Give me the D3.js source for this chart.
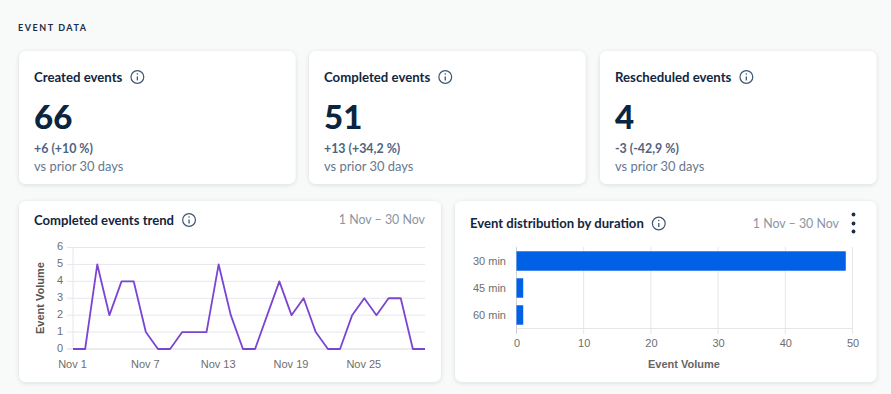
<!DOCTYPE html>
<html><head><meta charset="utf-8">
<script src="https://cdn.jsdelivr.net/npm/d3@7/dist/d3.min.js"></script>
<style>html,body{margin:0;padding:0;background:#f8f9f9;overflow:hidden}svg{display:block}</style>
</head><body><svg id="c" width="891" height="394"></svg>
<script>
const heading = "EVENT DATA";
const kpiTitles = ["Created events","Completed events","Rescheduled events"];
const kpiValues = ["66","51","4"];
const kpiDeltas = ["+6 (+10 %)","+13 (+34,2 %)","-3 (-42,9 %)"];
const kpiNote = "vs prior 30 days";
const dateRange = "1 Nov \u2013 30 Nov";
const trendDays = d3.range(1,31).map(d=>"Nov "+d);
const trendValues = [0,0,5,2,4,4,1,0,0,1,1,1,5,2,0,0,2,4,2,3,1,0,0,2,3,2,3,3,0,0];
const trendTicks = ["Nov 1","Nov 7","Nov 13","Nov 19","Nov 25"];
const durations = ["30 min","45 min","60 min"];
const durationValues = [49,1,1];

const TXT="Lato, sans-serif", CH="Liberation Sans, Arial, sans-serif";
const svg=d3.select("#c");
const defs=svg.append("defs");
const f=defs.append("filter").attr("id","sh").attr("x","-5%").attr("y","-5%").attr("width","110%").attr("height","115%");
f.append("feDropShadow").attr("dx",0).attr("dy",1).attr("stdDeviation",2).attr("flood-color","#0a2540").attr("flood-opacity",0.13);

function card(x,y,w,h){svg.append("rect").attr("x",x).attr("y",y).attr("width",w).attr("height",h).attr("rx",7).attr("fill","#fff").attr("filter","url(#sh)");}
function info(cx,cy){
  const g=svg.append("g").attr("transform",`translate(${cx},${cy})`).attr("fill","none").attr("stroke","#3f5670");
  g.append("circle").attr("r",6.4).attr("stroke-width",1.2);
  g.append("line").attr("y1",-0.6).attr("y2",3.4).attr("stroke-width",1.3);
  g.append("circle").attr("cy",-3).attr("r",0.8).attr("fill","#3f5670").attr("stroke","none");
}
function text(x,y,s,size,fill,weight,anchor,fam){
  return svg.append("text").attr("x",x).attr("y",y).text(s).attr("font-size",size).attr("fill",fill)
    .attr("font-weight",weight||400).attr("text-anchor",anchor||"start").attr("font-family",fam||TXT);
}
text(18,31,heading,9,"#1a2e47",700).attr("letter-spacing",1.55);

const kx=[19,309,600];
kpiTitles.forEach((t,i)=>{
  const x=kx[i];
  card(x,51,276.5,133);
  const tt=text(x+15,81.5,t,13.2,"#12263f",700);
  info(x+15+tt.node().getComputedTextLength()+15,77);
  text(x+15,129,kpiValues[i],33,"#0a2540",900);
  text(x+15,153,kpiDeltas[i],12.4,"#4f6480",700);
  text(x+15,171,kpiNote,12.9,"#66788f",400);
});

// trend card
card(19,201,422,181);
{
 const tt=text(34,224.5,"Completed events trend",13.1,"#12263f",700);
 info(34+tt.node().getComputedTextLength()+15,220);
 text(425,224,dateRange,12.4,"#8a95a3",400,"end");
 const x=d3.scalePoint().domain(trendDays).range([73,425]);
 const y=d3.scaleLinear().domain([0,6]).range([349,247.5]);
 const g=svg.append("g");
 g.append("g").selectAll("line").data(y.ticks(6)).join("line")
  .attr("x1",67).attr("x2",425).attr("y1",d=>y(d)).attr("y2",d=>y(d)).attr("stroke",d=>d===0?"#d5d8e0":"#e6e6ee").attr("stroke-width",1);
 g.append("line").attr("x1",73).attr("x2",73).attr("y1",247.5).attr("y2",349).attr("stroke","#e6e6ee");
 const ya=d3.axisLeft(y).tickValues(y.ticks(6)).tickFormat(d3.format("d")).tickSize(0).tickPadding(5);
 const yg=g.append("g").attr("transform","translate(68,0)").call(ya);
 yg.select(".domain").remove();
 yg.selectAll("text").attr("font-family",CH).attr("font-size",11).attr("fill","#6e6e6e").attr("dy","0.2em");
 const xa=d3.axisBottom(x).tickValues(trendTicks).tickSize(0).tickPadding(0);
 const xg=g.append("g").attr("transform","translate(-1,360)").call(xa);
 xg.select(".domain").remove();
 xg.selectAll("text").attr("font-family",CH).attr("font-size",11).attr("fill","#6e6e6e").attr("dy","0.71em");
 text(0,0,"Event Volume",11,"#555",700,"middle",CH).attr("transform","translate(43.5,298) rotate(-90)");
 g.append("path").datum(trendValues).attr("fill","none").attr("stroke","#7b45d3").attr("stroke-width",1.8).attr("stroke-linejoin","round")
  .attr("d",d3.line().x((d,i)=>x(trendDays[i])).y(d=>y(d)));
}
// duration card
card(455,201,421.5,181);
{
 const tt=text(470,228,"Event distribution by duration",13.1,"#12263f",700);
 info(470+tt.node().getComputedTextLength()+15,223.5);
 text(839,228,dateRange,12.4,"#8a95a3",400,"end");
 [214.5,223.5,231.5].forEach(cy=>svg.append("circle").attr("cx",853.5).attr("cy",cy).attr("r",1.9).attr("fill","#1c2f45"));
 const x=d3.scaleLinear().domain([0,50]).range([516.5,852.5]);
 const y=d3.scaleBand().domain(durations).range([247.5,328.5]).paddingInner(0.28).paddingOuter(0.14);
 const g=svg.append("g");
 g.selectAll("line.v").data(x.ticks(5)).join("line").attr("class","v")
  .attr("x1",d=>x(d)).attr("x2",d=>x(d)).attr("y1",247).attr("y2",334).attr("stroke",d=>d===0?"#ccd0d8":"#e6e6ea");
 g.append("line").attr("x1",516.5).attr("x2",852.5).attr("y1",328.5).attr("y2",328.5).attr("stroke","#e6e6ea");
 g.selectAll("rect").data(durationValues).join("rect")
  .attr("x",x(0)).attr("y",(d,i)=>y(durations[i])).attr("width",d=>x(d)-x(0)).attr("height",y.bandwidth()).attr("fill","#0060e6");
 const ya=d3.axisLeft(y).tickSize(0).tickPadding(0);
 const yg=g.append("g").attr("transform","translate(506,0)").call(ya);
 yg.select(".domain").remove();
 yg.selectAll("text").attr("font-family",CH).attr("font-size",11).attr("fill","#6e6e6e");
 const xa=d3.axisBottom(x).ticks(5).tickSize(0).tickPadding(0);
 const xg=g.append("g").attr("transform","translate(0,339)").call(xa);
 xg.select(".domain").remove();
 xg.selectAll("text").attr("font-family",CH).attr("font-size",11).attr("fill","#6e6e6e").attr("dy","0.71em");
 text(684,368,"Event Volume",11,"#666",700,"middle",CH);
}
</script></body></html>
